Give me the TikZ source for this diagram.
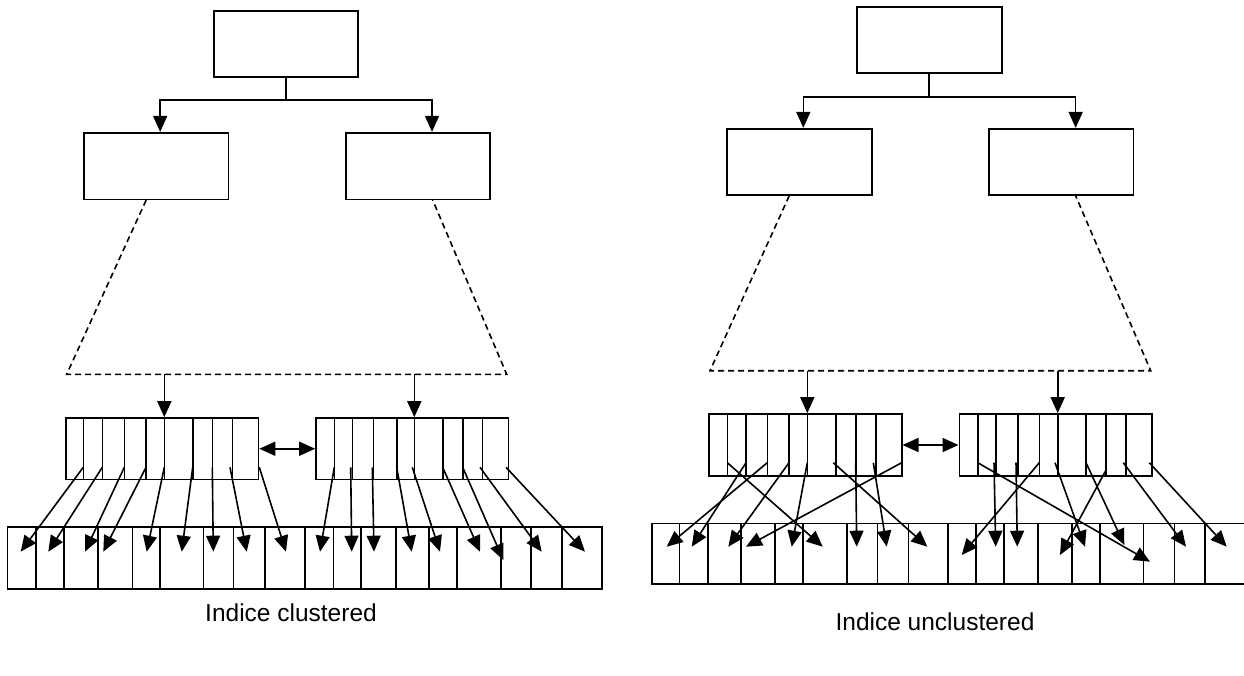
\documentclass[tikz,border=0pt]{standalone}
\usepackage{fontspec}
\setmainfont{Liberation Sans}
\usetikzlibrary{fit,arrows.meta}
\begin{document}
\begin{tikzpicture}[x=1pt,y=-1pt,
  box/.style={draw,line width=1.6pt,inner sep=0pt,fill=none},
  ln/.style={line width=1.6pt},
  arr/.style={line width=1.6pt,-{Triangle[length=16pt,width=14pt]}},
  dbl/.style={line width=1.6pt,{Triangle[length=16pt,width=14pt]}-{Triangle[length=16pt,width=14pt]}},
  dsh/.style={line width=1.6pt,dash pattern=on 6pt off 4pt},
  lbl/.style={inner sep=0pt,font=\fontsize{24.5}{29}\selectfont}]
\useasboundingbox (0,0) rectangle (1244,675);
% ---------------- LEFT: clustered ----------------
\node[box,fit={(214,10.7)(357.7,76.7)}] (rootL) {};
\node[box,fit={(84,132.7)(228.3,199.3)}] (cL1) {};
\node[box,fit={(346,132.7)(490,199.3)}] (cL2) {};
\coordinate (jL) at (286,100);
\draw[ln] (rootL.south -| jL) -- (jL);
\draw[arr] (jL) -| ([xshift=4]cL1.north);
\draw[arr] (jL) -| ([xshift=14]cL2.north);
\coordinate (tL1) at (66.7,374.3);
\coordinate (tL2) at (506.7,374.3);
\draw[dsh] ([xshift=-10]cL1.south) -- (tL1) -- (tL2) -- ([xshift=14.7]cL2.south);
\node[box,fit={(66,418)(258.5,479.5)}] (leafL1) {};
\node[box,fit={(316,418)(508.3,479.5)}] (leafL2) {};
\coordinate (dL1) at (164.3,374.3);
\coordinate (dL2) at (414.3,374.3);
\draw[arr] (dL1) -- (dL1 |- leafL1.north);
\draw[arr] (dL2) -- (dL2 |- leafL2.north);
\foreach \x in {83.3,102.3,124.3,146,164.3,192.7,212.3,232.3}
  \draw[ln] (\x,418) -- (\x,479.5);
\foreach \x in {334.3,352.3,373.3,396.7,414.3,442.7,462.7,482.3}
  \draw[ln] (\x,418) -- (\x,479.5);
\draw[dbl] (leafL1.east) -- (leafL2.west);
\node[box,fit={(7.3,526.7)(601.7,589)}] (dataL) {};
\foreach \x in {35.7,64,97.7,132.3,160,203.3,233.3,265,305,333.3,361,395.7,429,456.7,501,530.7,561.7}
  \draw[ln] (\x,526.7) -- (\x,589);
\foreach \i/\sx/\sy/\ex/\ey in {
  1/83.3/467.3/20.7/551.7, 2/102.3/467.3/48.3/551.7, 3/124.3/467.3/85/551.7,
  4/146/467.3/103.3/551.7, 5/164.3/467.3/146.7/551.7, 6/192.7/467.3/181.7/551.7,
  7/212.3/467.3/213.3/551.7, 8/230/467.3/246.7/551.7, 9/259.3/467.3/286/551.7,
  10/334.3/467.3/320/551.7, 11/350.7/467.3/351.7/551.7, 12/372.3/467.3/374/551.7,
  13/396.7/467.3/411.7/551.7, 14/412.3/467.3/440/551.7, 15/442.7/467.3/480/551.7,
  16/462.7/467.3/503.3/560, 17/480/467.3/541.7/551.7, 18/506/467.3/585/551.7}
{
  \coordinate (pLs\i) at (\sx,\sy);
  \coordinate (pLe\i) at (\ex,\ey);
  \draw[arr] (pLs\i) -- (pLe\i);
}
\node[lbl,anchor=base] (labL) at (291,621) {Indice clustered};
% ---------------- RIGHT: unclustered ----------------
\node[box,fit={(856.7,6.7)(1001.7,72.7)}] (rootR) {};
\node[box,fit={(726.7,128.7)(871.7,195)}] (cR1) {};
\node[box,fit={(989,128.7)(1133.3,195)}] (cR2) {};
\coordinate (jR) at (929,96.7);
\draw[ln] (rootR.south -| jR) -- (jR);
\draw[arr] (jR) -| ([xshift=4.1]cR1.north);
\draw[arr] (jR) -| ([xshift=14.5]cR2.north);
\coordinate (tR1) at (710,370.7);
\coordinate (tR2) at (1150.7,370.7);
\draw[dsh] ([xshift=-10]cR1.south) -- (tR1) -- (tR2) -- ([xshift=14.5]cR2.south);
\node[box,fit={(709,414)(901.7,476)}] (leafR1) {};
\node[box,fit={(959.3,414)(1151.7,476)}] (leafR2) {};
\coordinate (dR1) at (807.3,370.7);
\coordinate (dR2) at (1057.7,370.7);
\draw[arr] (dR1) -- (dR1 |- leafR1.north);
\draw[arr] (dR2) -- (dR2 |- leafR2.north);
\foreach \x in {727.3,746,767.3,789,807.3,836,855.7,876}
  \draw[ln] (\x,414) -- (\x,476);
\foreach \x in {977.7,995.7,1017.7,1039.3,1057.7,1086,1105.7,1126}
  \draw[ln] (\x,414) -- (\x,476);
\draw[dbl] (leafR1.east) -- (leafR2.west);
\node[box,fit={(651.7,523.3)(1250,584)}] (dataR) {};
\foreach \x in {679.3,707.7,741,775,802.7,846.7,877.3,908.3,948,975.7,1004,1037.7,1071.7,1100,1143.3,1174.3,1205}
  \draw[ln] (\x,523.3) -- (\x,584);
\foreach \i/\sx/\sy/\ex/\ey in {
  1/727.3/462.7/822.7/546.7, 2/746/462.7/691.7/546.7, 3/767.3/462.7/666.7/546.7,
  4/789/462.7/728.3/546.7, 5/807.3/462.7/791.7/546.7, 6/833.3/462.7/927.3/546.7,
  7/855.7/462.7/856.7/546.7, 8/873.3/462.7/886.7/546.7, 9/901.7/462.7/746/546.7,
  10/977.7/462.7/1150/561.7, 11/994/462.7/995.7/546.7, 12/1016/462.7/1017.3/546.7,
  13/1039.3/462.7/961.7/555, 14/1055/462.7/1085/546.7, 15/1086/462.7/1124.3/545,
  16/1105.7/470.7/1060/555, 17/1123.3/462.7/1186/546.7, 18/1149.3/462.7/1226.7/546.7}
{
  \coordinate (pRs\i) at (\sx,\sy);
  \coordinate (pRe\i) at (\ex,\ey);
  \draw[arr] (pRs\i) -- (pRe\i);
}
\node[lbl,anchor=base] (labR) at (935,630) {Indice unclustered};
\end{tikzpicture}
\end{document}
